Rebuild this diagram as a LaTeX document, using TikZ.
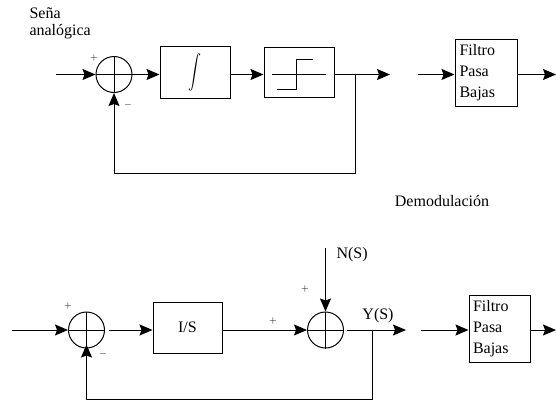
\documentclass[tikz,border=0pt]{standalone}
\usepackage{fontspec}
\setmainfont{Liberation Serif}
\usepackage{graphicx}
\usetikzlibrary{arrows.meta}
\begin{document}
\begin{tikzpicture}[x=1pt,y=-1pt,
  line width=1pt,
  arr/.style={-{Stealth[length=13pt,width=11pt,inset=2pt]}},
  sumnode/.style={circle,draw,minimum size=36pt,inner sep=0pt},
  blk/.style={draw,inner sep=0pt,font=\fontsize{16}{21}\selectfont},
  filt/.style={draw,inner xsep=4pt,inner ysep=2pt,align=left,minimum width=62pt,minimum height=67pt,text width=53pt,font=\fontsize{16}{21}\selectfont},
  lbl/.style={font=\fontsize{16}{18}\selectfont,inner sep=0pt},
  sgn/.style={font=\fontsize{10}{12}\selectfont,inner sep=0pt}]
\useasboundingbox (0,0) rectangle (556,402);

% ---------- top ----------
\node[lbl,align=left,anchor=north west] (sena) at (29,7) {Seña\\[-1pt]analógica};
\coordinate (in1) at (56,74.5);
\node[sumnode] (s1) at (114,74.5) {};
\draw (s1.north)--(s1.south) (s1.west)--(s1.east);
\node[sgn] (p1) at (94,58) {$+$};
\node[sgn] (m1) at (128,105) {$-$};
\node[blk,minimum width=70pt,minimum height=52pt] (int) at (195,72) {\scalebox{1.3}[1.7]{$\displaystyle\int$}};
\node[blk,minimum width=70pt,minimum height=50pt] (stp) at (299,72) {};
\draw (272,74)--(326,74);
\draw (277,89)--(296,89)--(296,59)--(313,59);
\coordinate (o1) at (390,74.5);
\coordinate (b1) at (355,74.5);
\coordinate (c1) at (355,173);
\coordinate (d1) at (114,173);
\coordinate (f1in) at (418,74.5);
\node[filt] (f1) at (486,72.5) {Filtro\\Pasa\\Bajas};
\coordinate (f1out) at (556,74.5);

\draw[arr] (in1) -- (s1.west);
\draw[arr] (s1.east) -- (int.west |- s1.east);
\draw[arr] (int.east |- s1.east) -- (stp.west |- s1.east);
\draw[arr] (stp.east |- s1.east) -- (o1);
\draw[arr] (b1) -- (c1) -- (d1) -- (s1.south);
\draw[arr] (f1in) -- (f1.west |- f1in);
\draw[arr] (f1.east |- f1in) -- (f1out);

\node[lbl,anchor=base] (demod) at (442,206) {Demodulación};

% ---------- bottom ----------
\coordinate (in2) at (12,330);
\node[sumnode] (s2) at (86.5,330) {};
\draw (s2.north)--(s2.south) (s2.west)--(s2.east);
\node[sgn] (p2) at (68,306) {$+$};
\node[sgn] (m2) at (103,354) {$-$};
\node[blk,minimum width=69pt,minimum height=51pt] (is) at (187.5,327.5) {I/S};
\node[sgn] (p3) at (273,321) {$+$};
\node[sumnode] (s3) at (325.5,330) {};
\draw (s3.north)--(s3.south) (s3.west)--(s3.east);
\coordinate (nin) at (325.5,248);
\node[lbl,anchor=west] (ns) at (336,255) {N(S)};
\node[sgn] (p4) at (305,289) {$+$};
\node[lbl] (ys) at (378,316) {Y(S)};
\coordinate (o2) at (406,330);
\coordinate (b2) at (372,330);
\coordinate (c2) at (372,399);
\coordinate (d2) at (86.5,399);
\coordinate (f2in) at (421,330);
\node[filt,minimum width=61pt] (f2) at (499.5,328.5) {Filtro\\Pasa\\Bajas};
\coordinate (f2out) at (556,330);

\draw[arr] (in2) -- (s2.west);
\draw[arr] (s2.east) ++(4,0) -- (is.west |- s2.east);
\draw[arr] (is.east |- s2.east) -- (s3.west);
\draw[arr] (nin) -- (s3.north);
\draw[arr] (s3.east) ++(3,0) -- (o2);
\draw[arr] (b2) -- (c2) -- (d2) -- ([yshift=4pt]s2.south);
\draw[arr] (f2in) -- (f2.west |- f2in);
\draw[arr] (f2.east |- f2in) -- (f2out);
\end{tikzpicture}
\end{document}
